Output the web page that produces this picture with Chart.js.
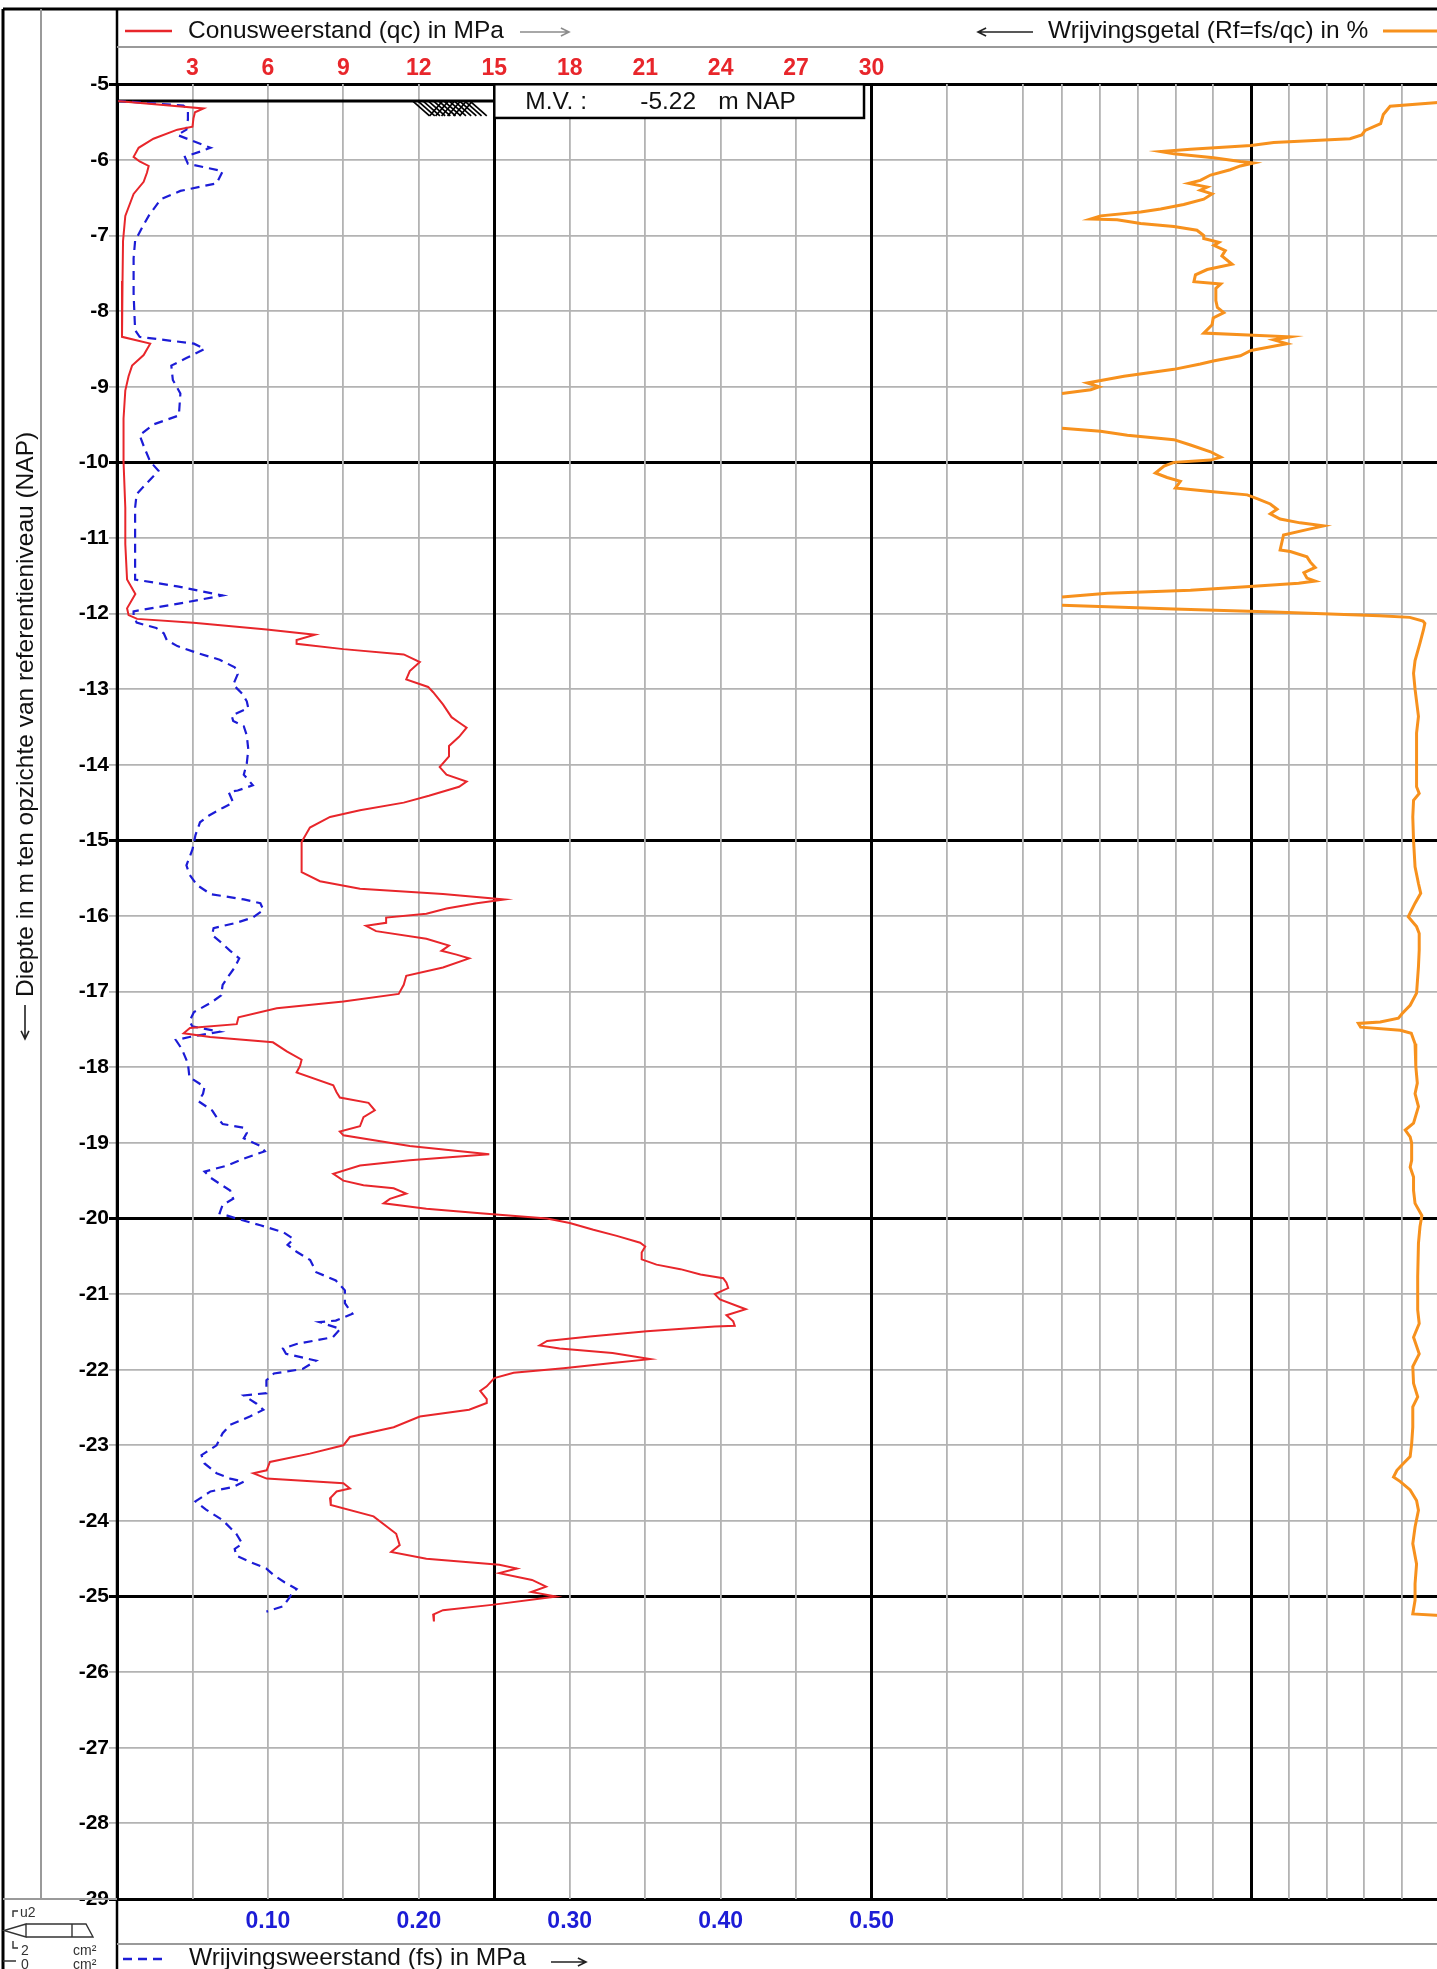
<!DOCTYPE html>
<html>
<head>
<meta charset="utf-8">
<title>Sondering</title>
<script src="https://cdn.jsdelivr.net/npm/chart.js@4.4.1/dist/chart.umd.min.js"></script>
<style>
  html, body { margin: 0; padding: 0; background: #fff; overflow: hidden; }
  #wrap { position: relative; width: 1440px; height: 1969px; }
</style>
</head>
<body>
<div id="wrap"><canvas id="sondering"></canvas></div>
<script>
// ---- data: [depth m NAP, value] ----
const surfaceLevel = -5.22;

const qcProfile = [
  [-5.22, 0.0], [-5.32, 3.44], [-5.37, 3.1], [-5.45, 3.04], [-5.56, 3.0], [-5.60, 2.4],
  [-5.72, 1.45], [-5.84, 0.86], [-5.96, 0.66], [-6.02, 0.9], [-6.08, 1.26], [-6.17, 1.19],
  [-6.29, 1.06], [-6.45, 0.66], [-6.74, 0.33], [-7.07, 0.24], [-7.6, 0.22], [-8.25, 0.2],
  [-8.34, 0.2], [-8.43, 1.32], [-8.58, 1.06], [-8.72, 0.6], [-8.86, 0.46], [-9.05, 0.33],
  [-9.42, 0.26], [-9.99, 0.26], [-10.6, 0.33], [-11.08, 0.33], [-11.55, 0.4], [-11.74, 0.73],
  [-11.93, 0.4], [-12.02, 0.46], [-12.07, 0.8], [-12.12, 3.04], [-12.21, 5.95], [-12.28, 7.87],
  [-12.35, 7.14], [-12.40, 7.14], [-12.47, 9.0], [-12.54, 11.4], [-12.64, 12.04], [-12.76, 11.64],
  [-12.87, 11.5], [-12.97, 12.37], [-13.04, 12.57], [-13.2, 12.96], [-13.37, 13.3], [-13.44, 13.6],
  [-13.51, 13.9], [-13.63, 13.6], [-13.75, 13.2], [-13.89, 13.2], [-14.03, 12.83], [-14.13, 13.1],
  [-14.22, 13.9], [-14.29, 13.6], [-14.41, 12.4], [-14.5, 11.4], [-14.6, 9.66], [-14.69, 8.47],
  [-14.83, 7.67], [-15.02, 7.34], [-15.21, 7.34], [-15.42, 7.34], [-15.54, 8.07], [-15.64, 9.66],
  [-15.71, 12.96], [-15.78, 15.4], [-15.83, 14.3], [-15.9, 13.1], [-15.97, 12.3], [-16.02, 10.7],
  [-16.09, 10.7], [-16.13, 9.9], [-16.2, 10.3], [-16.3, 12.3], [-16.39, 13.2], [-16.46, 12.9],
  [-16.51, 13.5], [-16.56, 14.0], [-16.68, 12.96], [-16.79, 11.5], [-16.91, 11.4], [-17.03, 11.2],
  [-17.13, 9.0], [-17.22, 6.35], [-17.34, 4.83], [-17.43, 4.76], [-17.48, 2.9], [-17.55, 2.65],
  [-17.6, 3.7], [-17.67, 6.2], [-17.79, 6.75], [-17.9, 7.34], [-17.98, 7.28], [-18.07, 7.14],
  [-18.24, 8.6], [-18.33, 8.73], [-18.4, 8.86], [-18.47, 10.0], [-18.57, 10.25], [-18.66, 9.8],
  [-18.78, 9.66], [-18.85, 8.86], [-18.9, 9.0], [-19.04, 11.64], [-19.15, 14.8], [-19.23, 11.64],
  [-19.3, 9.66], [-19.41, 8.6], [-19.5, 9.0], [-19.56, 9.8], [-19.6, 11.0], [-19.67, 11.5],
  [-19.74, 10.85], [-19.8, 10.6], [-19.87, 12.3], [-19.93, 14.44], [-20.0, 17.1], [-20.06, 18.0],
  [-20.15, 18.94], [-20.23, 19.87], [-20.32, 20.8], [-20.37, 21.0], [-20.45, 20.86], [-20.54, 20.86],
  [-20.61, 21.45], [-20.67, 22.4], [-20.74, 23.2], [-20.79, 24.1], [-20.85, 24.23], [-20.92, 24.3],
  [-21.0, 23.77], [-21.07, 23.97], [-21.2, 25.0], [-21.28, 24.23], [-21.36, 24.5], [-21.42, 24.56],
  [-21.43, 23.77], [-21.49, 21.06], [-21.56, 18.8], [-21.62, 17.1], [-21.68, 16.8], [-21.72, 17.6],
  [-21.78, 19.7], [-21.86, 21.19], [-21.91, 19.7], [-21.98, 17.75], [-22.04, 15.77], [-22.11, 15.0],
  [-22.22, 14.7], [-22.28, 14.44], [-22.39, 14.7], [-22.44, 14.7], [-22.53, 14.0], [-22.62, 12.04],
  [-22.76, 11.0], [-22.89, 9.26], [-23.0, 9.0], [-23.11, 7.67], [-23.22, 6.08], [-23.33, 5.95],
  [-23.37, 5.42], [-23.44, 5.95], [-23.5, 9.0], [-23.57, 9.26], [-23.61, 8.73], [-23.7, 8.47],
  [-23.79, 8.5], [-23.94, 10.2], [-24.17, 11.1], [-24.32, 11.24], [-24.41, 10.9], [-24.5, 12.3],
  [-24.58, 15.2], [-24.63, 15.9], [-24.69, 15.2], [-24.78, 16.5], [-24.87, 17.06], [-24.94, 16.47],
  [-25.0, 17.46], [-25.11, 14.9], [-25.18, 12.96], [-25.24, 12.57], [-25.33, 12.6],
];

const fsProfile = [
  [-5.22, 0.0], [-5.28, 0.044], [-5.34, 0.047], [-5.46, 0.047], [-5.60, 0.046], [-5.67, 0.040],
  [-5.84, 0.062], [-5.89, 0.055], [-5.96, 0.045], [-6.05, 0.047], [-6.15, 0.070], [-6.31, 0.066],
  [-6.41, 0.042], [-6.52, 0.029], [-6.74, 0.021], [-6.88, 0.017], [-7.07, 0.012], [-7.30, 0.011],
  [-7.77, 0.011], [-8.25, 0.012], [-8.34, 0.015], [-8.43, 0.051], [-8.50, 0.058], [-8.62, 0.046],
  [-8.72, 0.036], [-8.91, 0.037], [-9.09, 0.042], [-9.38, 0.041], [-9.50, 0.024], [-9.64, 0.015],
  [-9.80, 0.018], [-9.99, 0.022], [-10.11, 0.0275], [-10.27, 0.020], [-10.42, 0.013], [-10.60, 0.012],
  [-11.08, 0.012], [-11.55, 0.012], [-11.64, 0.040], [-11.76, 0.070], [-11.85, 0.046], [-11.97, 0.011],
  [-12.02, 0.011], [-12.12, 0.013], [-12.19, 0.026], [-12.26, 0.031], [-12.35, 0.033], [-12.43, 0.040],
  [-12.52, 0.053], [-12.61, 0.068], [-12.71, 0.078], [-12.8, 0.080], [-12.94, 0.077], [-13.06, 0.083],
  [-13.16, 0.086], [-13.25, 0.087], [-13.35, 0.076], [-13.42, 0.077], [-13.49, 0.084], [-13.61, 0.086],
  [-13.8, 0.087], [-13.98, 0.086], [-14.13, 0.084], [-14.27, 0.090], [-14.34, 0.080], [-14.36, 0.074],
  [-14.5, 0.077], [-14.57, 0.070], [-14.67, 0.061], [-14.76, 0.055], [-14.93, 0.052], [-15.12, 0.050],
  [-15.33, 0.046], [-15.45, 0.048], [-15.59, 0.053], [-15.71, 0.062], [-15.78, 0.084], [-15.83, 0.095],
  [-15.92, 0.097], [-16.02, 0.090], [-16.09, 0.079], [-16.16, 0.064], [-16.25, 0.063], [-16.35, 0.069],
  [-16.46, 0.075], [-16.56, 0.081], [-16.68, 0.078], [-16.79, 0.074], [-16.91, 0.070], [-17.05, 0.069],
  [-17.15, 0.062], [-17.27, 0.051], [-17.39, 0.048], [-17.46, 0.050], [-17.53, 0.068], [-17.6, 0.048],
  [-17.64, 0.039], [-17.76, 0.043], [-17.95, 0.047], [-18.13, 0.048], [-18.26, 0.058], [-18.35, 0.057],
  [-18.45, 0.054], [-18.57, 0.063], [-18.66, 0.066], [-18.75, 0.070], [-18.8, 0.084], [-18.87, 0.086],
  [-18.94, 0.084], [-19.04, 0.095], [-19.11, 0.098], [-19.21, 0.084], [-19.3, 0.073], [-19.38, 0.058],
  [-19.46, 0.062], [-19.54, 0.068], [-19.63, 0.075], [-19.74, 0.077], [-19.82, 0.070], [-19.93, 0.068],
  [-20.0, 0.079], [-20.09, 0.095], [-20.18, 0.110], [-20.27, 0.117], [-20.35, 0.113], [-20.44, 0.119],
  [-20.55, 0.128], [-20.71, 0.132], [-20.82, 0.145], [-20.95, 0.151], [-21.12, 0.151], [-21.26, 0.156],
  [-21.35, 0.145], [-21.37, 0.134], [-21.46, 0.148], [-21.57, 0.143], [-21.66, 0.119], [-21.72, 0.110],
  [-21.79, 0.112], [-21.88, 0.132], [-21.99, 0.123], [-22.05, 0.104], [-22.14, 0.099], [-22.31, 0.099],
  [-22.34, 0.084], [-22.45, 0.0925], [-22.53, 0.097], [-22.62, 0.088], [-22.73, 0.075], [-22.84, 0.070],
  [-23.0, 0.066], [-23.13, 0.056], [-23.24, 0.058], [-23.37, 0.066], [-23.44, 0.075], [-23.48, 0.084],
  [-23.55, 0.077], [-23.61, 0.062], [-23.74, 0.052], [-23.85, 0.059], [-23.99, 0.070], [-24.17, 0.079],
  [-24.3, 0.083], [-24.37, 0.078], [-24.46, 0.079], [-24.54, 0.088], [-24.63, 0.099], [-24.72, 0.104],
  [-24.81, 0.111], [-24.9, 0.119], [-24.96, 0.116], [-25.02, 0.114], [-25.13, 0.110], [-25.2, 0.099],
];

// null = off the 10 % scale (line is broken there)
const rfProfile = [
  [-5.24, 0.05], [-5.29, 1.32], [-5.40, 1.5], [-5.52, 1.57], [-5.61, 1.98], [-5.67, 2.07],
  [-5.72, 2.38], [-5.77, 4.4], [-5.81, 5.0], [-5.86, 6.6], [-5.89, 7.39], [-5.92, 7.04],
  [-5.97, 5.99], [-6.02, 5.28], [-6.04, 4.93], [-6.08, 5.28], [-6.13, 5.55], [-6.20, 6.07],
  [-6.27, 6.34], [-6.31, 6.65], [-6.36, 6.16], [-6.40, 6.34], [-6.45, 6.03], [-6.52, 6.25],
  [-6.59, 6.78], [-6.65, 7.39], [-6.69, 7.92], [-6.74, 8.98], [-6.78, 9.24], [-6.79, 8.54],
  [-6.84, 7.92], [-6.88, 7.04], [-6.93, 6.43], [-7.0, 6.25], [-7.04, 6.25], [-7.09, 5.85],
  [-7.13, 5.98], [-7.2, 5.68], [-7.27, 5.77], [-7.38, 5.5], [-7.45, 6.16], [-7.52, 6.47],
  [-7.61, 6.51], [-7.64, 5.8], [-7.70, 5.93], [-7.86, 5.93], [-7.95, 5.89], [-8.02, 5.72],
  [-8.09, 6.0], [-8.18, 6.03], [-8.29, 6.25], [-8.32, 4.93], [-8.34, 3.96], [-8.38, 4.4],
  [-8.43, 4.05], [-8.52, 5.0], [-8.59, 5.28], [-8.66, 6.0], [-8.70, 6.34], [-8.77, 7.04],
  [-8.86, 8.36], [-8.95, 9.33], [-9.0, 9.02], [-9.04, 9.24], [-9.09, 10.0], [-9.3, null],
  [-9.55, 10.0], [-9.59, 8.98], [-9.64, 8.27], [-9.70, 7.04], [-9.77, 6.6], [-9.86, 6.07],
  [-9.93, 5.8], [-9.97, 6.07], [-10.0, 7.04], [-10.05, 7.3], [-10.14, 7.53], [-10.2, 7.22],
  [-10.25, 6.87], [-10.34, 7.0], [-10.39, 6.0], [-10.43, 5.1], [-10.48, 4.84], [-10.55, 4.49],
  [-10.62, 4.31], [-10.68, 4.49], [-10.75, 4.23], [-10.80, 3.7], [-10.84, 3.08], [-10.89, 3.52],
  [-10.96, 4.14], [-11.05, 4.18], [-11.16, 4.23], [-11.18, 3.96], [-11.25, 3.52], [-11.32, 3.43],
  [-11.39, 3.3], [-11.46, 3.6], [-11.53, 3.52], [-11.57, 3.3], [-11.60, 3.74], [-11.64, 4.93],
  [-11.69, 6.6], [-11.73, 8.8], [-11.78, 10.0], [-11.84, null], [-11.89, 10.0], [-11.94, 7.04],
  [-11.98, 4.4], [-12.03, 1.6], [-12.05, 0.8], [-12.1, 0.45], [-12.13, 0.40], [-12.22, 0.44],
  [-12.39, 0.53], [-12.62, 0.66], [-12.79, 0.70], [-13.0, 0.66], [-13.36, 0.57], [-13.58, 0.62],
  [-14.03, 0.62], [-14.29, 0.62], [-14.38, 0.55], [-14.47, 0.70], [-14.69, 0.72], [-15.0, 0.70],
  [-15.35, 0.66], [-15.57, 0.57], [-15.70, 0.51], [-15.83, 0.66], [-16.01, 0.84], [-16.14, 0.62],
  [-16.23, 0.55], [-16.45, 0.55], [-16.67, 0.57], [-17.02, 0.62], [-17.18, 0.79], [-17.29, 1.0],
  [-17.35, 1.1], [-17.40, 1.58], [-17.42, 2.16], [-17.47, 2.1], [-17.51, 1.05], [-17.55, 0.76],
  [-17.69, 0.66], [-17.99, 0.64], [-18.21, 0.6], [-18.35, 0.66], [-18.52, 0.57], [-18.74, 0.70],
  [-18.83, 0.92], [-18.92, 0.79], [-19.0, 0.75], [-19.23, 0.75], [-19.32, 0.79], [-19.45, 0.70],
  [-19.63, 0.70], [-19.8, 0.66], [-19.96, 0.48], [-20.11, 0.53], [-20.33, 0.57], [-20.77, 0.59],
  [-21.21, 0.59], [-21.39, 0.55], [-21.57, 0.70], [-21.79, 0.55], [-21.96, 0.72], [-22.18, 0.70],
  [-22.36, 0.59], [-22.49, 0.72], [-22.76, 0.72], [-22.98, 0.75], [-23.15, 0.79], [-23.24, 0.97],
  [-23.33, 1.14], [-23.42, 1.23], [-23.48, 1.05], [-23.59, 0.79], [-23.73, 0.62], [-23.86, 0.57],
  [-24.08, 0.66], [-24.3, 0.72], [-24.57, 0.62], [-24.83, 0.66], [-25.05, 0.66], [-25.23, 0.72],
  [-25.25, 0.0],
];

// ---- axes ----
const depthTicks = [-5, -6, -7, -8, -9, -10, -11, -12, -13, -14, -15, -16, -17,
  -18, -19, -20, -21, -22, -23, -24, -25, -26, -27, -28, -29];
const qcGridValues = [0, 3, 6, 9, 12, 15, 18, 21, 24, 27, 30, 33, 36];
const qcTickLabels = [3, 6, 9, 12, 15, 18, 21, 24, 27, 30];
const rfGridValues = [0, 1, 2, 3, 4, 5, 6, 7, 8, 9, 10];
const rfTickLabels = [2, 4, 6, 8, 10];
const fsTickLabels = [0.1, 0.2, 0.3, 0.4, 0.5];

const QC_MAX = 52.6;   // right edge of the sheet in MPa
const RF_MAX = 35.0;   // left edge of the sheet in %
const FS_PER_QC = 1 / 60;

const FONT = '"Liberation Sans", Arial, Helvetica, sans-serif';
const RED = "#e8262b";
const BLUE = "#1c1cd6";
const ORANGE = "#f7911d";
const GRID = "#b3b3b3";

const PLOT_LEFT = 117;
const PLOT_TOP = 84.3;
const BOTTOM_BAND = 70;

const toPoints = (rows) => rows.map(([d, v]) => ({ x: v, y: d }));

function arrow(ctx, x1, y1, x2, y2, color) {
  const ang = Math.atan2(y2 - y1, x2 - x1);
  const h = 9;
  ctx.save();
  ctx.strokeStyle = color;
  ctx.lineWidth = 1.6;
  ctx.beginPath();
  ctx.moveTo(x1, y1);
  ctx.lineTo(x2, y2);
  ctx.moveTo(x2 - h * Math.cos(ang - 0.45), y2 - h * Math.sin(ang - 0.45));
  ctx.lineTo(x2, y2);
  ctx.lineTo(x2 - h * Math.cos(ang + 0.45), y2 - h * Math.sin(ang + 0.45));
  ctx.stroke();
  ctx.restore();
}

function line(ctx, x1, y1, x2, y2) {
  ctx.beginPath();
  ctx.moveTo(x1, y1);
  ctx.lineTo(x2, y2);
  ctx.stroke();
}

const sheet = {
  id: "sheet",
  beforeDatasetsDraw(chart) {
    const { ctx } = chart;
    const { xqc, y } = chart.scales;
    // M.V. box
    const bx0 = xqc.getPixelForValue(15), bx1 = xqc.getPixelForValue(29.7);
    const by0 = y.getPixelForValue(-5), by1 = y.getPixelForValue(-5.445);
    ctx.save();
    ctx.fillStyle = "#fff";
    ctx.fillRect(bx0, by0, bx1 - bx0, by1 - by0);
    ctx.strokeStyle = "#000";
    ctx.lineWidth = 2.5;
    ctx.strokeRect(bx0, by0, bx1 - bx0, by1 - by0);
    ctx.fillStyle = "#111";
    ctx.font = `24.5px ${FONT}`;
    ctx.textBaseline = "middle";
    const ty = (by0 + by1) / 2 + 1;
    ctx.fillText("M.V. :", bx0 + 31, ty);
    ctx.fillText(surfaceLevel.toFixed(2), bx0 + 146, ty);
    ctx.fillText("m NAP", bx0 + 224, ty);

    // surface level line with ground hatch
    const sy = y.getPixelForValue(surfaceLevel);
    ctx.lineWidth = 3;
    line(ctx, xqc.getPixelForValue(0), sy, xqc.getPixelForValue(15), sy);
    const hx = xqc.getPixelForValue(11.75);
    ctx.lineWidth = 1.7;
    for (let i = 0; i < 12; i++) {
      const x = hx + i * 5.2;
      line(ctx, x, sy, x + 17, sy + 15);
    }
    for (let i = 0; i < 6; i++) {
      const x = hx + 30 + i * 6;
      line(ctx, x, sy, x - 13, sy + 15);
    }
    ctx.restore();
  },
  afterDraw(chart) {
    const { ctx } = chart;
    const W = chart.width, H = chart.height;
    const area = chart.chartArea;
    ctx.save();
    // outer frame
    ctx.strokeStyle = "#000";
    ctx.lineWidth = 3;
    line(ctx, 3, 9, W, 9);
    line(ctx, 3, 9, 3, H);
    ctx.lineWidth = 2.5;
    line(ctx, area.left, 9, area.left, H);
    ctx.strokeStyle = "#9a9a9a";
    ctx.lineWidth = 2;
    line(ctx, area.left, 47, W, 47);
    line(ctx, area.left, 1944, W, 1944);
    line(ctx, 41, 9, 41, area.bottom);
    line(ctx, 3, area.bottom, area.left, area.bottom);

    // header legend
    ctx.textBaseline = "middle";
    ctx.font = `24.5px ${FONT}`;
    ctx.fillStyle = "#111";
    ctx.strokeStyle = RED;
    ctx.lineWidth = 2.5;
    line(ctx, 125, 31, 172, 31);
    ctx.fillText("Conusweerstand (qc) in MPa", 188, 31);
    arrow(ctx, 520, 32, 569, 32, "#8c8c8c");
    arrow(ctx, 1033, 32, 978, 32, "#222");
    ctx.fillText("Wrijvingsgetal (Rf=fs/qc) in %", 1048, 31);
    ctx.strokeStyle = ORANGE;
    ctx.lineWidth = 3;
    line(ctx, 1383, 31, W, 31);

    // footer legend
    ctx.strokeStyle = BLUE;
    ctx.lineWidth = 2.5;
    ctx.setLineDash([9, 6]);
    line(ctx, 123, 1959, 168, 1959);
    ctx.setLineDash([]);
    ctx.fillText("Wrijvingsweerstand (fs) in MPa", 189, 1958);
    arrow(ctx, 551, 1962, 586, 1962, "#222");

    // vertical axis title
    ctx.save();
    ctx.translate(25, 997);
    ctx.rotate(-Math.PI / 2);
    ctx.textAlign = "left";
    ctx.fillText("Diepte in m ten opzichte van referentieniveau (NAP)", 0, 1);
    arrow(ctx, -8, 0, -42, 0, "#222");
    ctx.restore();

    // cone symbol in the corner
    ctx.strokeStyle = "#333";
    ctx.lineWidth = 1.4;
    ctx.beginPath();
    ctx.moveTo(26, 1924); ctx.lineTo(86, 1924); ctx.lineTo(93, 1937); ctx.lineTo(26, 1937);
    ctx.moveTo(26, 1924); ctx.lineTo(4, 1930.5); ctx.lineTo(26, 1937); ctx.closePath();
    ctx.moveTo(72, 1924); ctx.lineTo(72, 1937);
    ctx.moveTo(13, 1917); ctx.lineTo(13, 1911); ctx.lineTo(18, 1911);
    ctx.moveTo(13, 1941); ctx.lineTo(13, 1948); ctx.lineTo(18, 1948);
    ctx.moveTo(3, 1961); ctx.lineTo(16, 1961);
    ctx.stroke();
    ctx.fillStyle = "#333";
    ctx.font = `14px ${FONT}`;
    ctx.fillText("u2", 20, 1913);
    ctx.fillText("2", 21, 1951);
    ctx.fillText("cm²", 73, 1951);
    ctx.fillText("0", 21, 1965);
    ctx.fillText("cm²", 73, 1965);
    ctx.restore();
  },
};

const majorDepth = (v) => v % 5 === 0 || v === -29;

new Chart(document.getElementById("sondering"), {
  type: "scatter",
  data: {
    datasets: [
      {
        label: "Conusweerstand (qc)",
        data: toPoints(qcProfile),
        xAxisID: "xqc",
        yAxisID: "y",
        showLine: true,
        borderColor: RED,
        borderWidth: 2,
        pointRadius: 0,
      },
      {
        label: "Wrijvingsweerstand (fs)",
        data: toPoints(fsProfile),
        xAxisID: "xfs",
        yAxisID: "y",
        showLine: true,
        borderColor: BLUE,
        borderWidth: 2.2,
        borderDash: [9, 6],
        pointRadius: 0,
      },
      {
        label: "Wrijvingsgetal (Rf)",
        data: toPoints(rfProfile),
        xAxisID: "xrf",
        yAxisID: "y",
        showLine: true,
        spanGaps: false,
        borderColor: ORANGE,
        borderWidth: 3,
        pointRadius: 0,
      },
    ],
  },
  options: {
    responsive: true,
    maintainAspectRatio: false,
    animation: false,
    devicePixelRatio: 1,
    layout: { padding: 0 },
    plugins: {
      legend: { display: false },
      tooltip: { enabled: false },
    },
    scales: {
      y: {
        type: "linear",
        position: "left",
        min: -29,
        max: -5,
        afterFit: (s) => { s.width = PLOT_LEFT; },
        afterBuildTicks: (s) => { s.ticks = depthTicks.map((v) => ({ value: v })); },
        ticks: {
          autoSkip: false,
          color: "#000",
          padding: 0,
          font: { family: FONT, size: 21, weight: "bold" },
          callback: (v) => String(v),
        },
        grid: {
          tickLength: 8,
          color: (c) => (c.tick && majorDepth(c.tick.value) ? "#000" : GRID),
          lineWidth: (c) => (c.tick && majorDepth(c.tick.value) ? 3 : 1.8),
        },
        border: { display: true, color: "#000", width: 3 },
      },
      xqc: {
        type: "linear",
        position: "top",
        weight: 1,
        min: 0,
        max: QC_MAX,
        afterFit: (s) => { s.height = PLOT_TOP; },
        afterBuildTicks: (s) => { s.ticks = qcGridValues.map((v) => ({ value: v })); },
        ticks: {
          autoSkip: false,
          maxRotation: 0,
          minRotation: 0,
          padding: 1.5,
          color: RED,
          font: { family: FONT, size: 23, weight: "bold" },
          callback: (v) => (qcTickLabels.includes(v) ? String(v) : ""),
        },
        grid: {
          drawTicks: false,
          color: (c) => (c.tick && c.tick.value % 15 === 0 ? "#000" : GRID),
          lineWidth: (c) => (c.tick && c.tick.value % 15 === 0 ? 3 : 1.8),
        },
        border: { display: false },
      },
      xrf: {
        type: "linear",
        position: "top",
        weight: 0,
        reverse: true,
        min: 0,
        max: RF_MAX,
        afterFit: (s) => { s.height = 0; },
        afterBuildTicks: (s) => { s.ticks = rfGridValues.map((v) => ({ value: v })); },
        ticks: {
          autoSkip: false,
          maxRotation: 0,
          minRotation: 0,
          padding: 1.5,
          color: ORANGE,
          font: { family: FONT, size: 23, weight: "bold" },
          callback: (v) => (rfTickLabels.includes(v) ? String(v) : ""),
        },
        grid: {
          drawTicks: false,
          color: (c) => (c.tick && c.tick.value === 5 ? "#000" : GRID),
          lineWidth: (c) => (c.tick && c.tick.value === 5 ? 3 : 1.8),
        },
        border: { display: false },
      },
      xfs: {
        type: "linear",
        position: "bottom",
        min: 0,
        max: QC_MAX * FS_PER_QC,
        afterFit: (s) => { s.height = BOTTOM_BAND; },
        afterBuildTicks: (s) => { s.ticks = fsTickLabels.map((v) => ({ value: v })); },
        ticks: {
          autoSkip: false,
          maxRotation: 0,
          minRotation: 0,
          padding: 9,
          color: BLUE,
          font: { family: FONT, size: 23, weight: "bold" },
          callback: (v) => v.toFixed(2),
        },
        grid: { display: false, drawTicks: false },
        border: { display: false },
      },
    },
  },
  plugins: [sheet],
});
</script>
</body>
</html>
